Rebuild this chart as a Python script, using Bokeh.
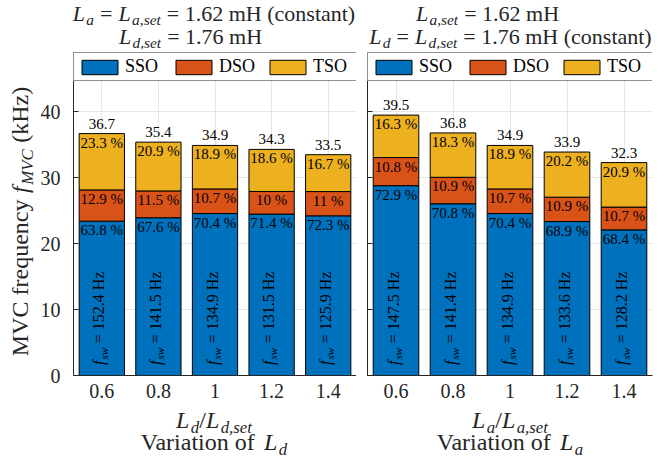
from math import pi
from bokeh.plotting import figure
from bokeh.models import (ColumnDataSource, FactorRange, Range1d, FixedTicker,
                          Legend, LegendItem)
from bokeh.layouts import row, column
from bokeh.embed import file_html
from bokeh.resources import INLINE
from bokeh.core.properties import value

# ---------------- data ----------------
ratios = ["0.6", "0.8", "1", "1.2", "1.4"]
modes = ["SSO", "DSO", "TSO"]
y_ticks = [0, 10, 20, 30, 40]

# Variation of L_d
ld_total = [36.7, 35.4, 34.9, 34.3, 33.5]
ld_sso = [63.8, 67.6, 70.4, 71.4, 72.3]
ld_dso = [12.9, 11.5, 10.7, 10, 11]
ld_tso = [23.3, 20.9, 18.9, 18.6, 16.7]
ld_fsw = [152.4, 141.5, 134.9, 131.5, 125.9]

# Variation of L_a
la_total = [39.5, 36.8, 34.9, 33.9, 32.3]
la_sso = [72.9, 70.8, 70.4, 68.9, 68.4]
la_dso = [10.8, 10.9, 10.7, 10.9, 10.7]
la_tso = [16.3, 18.3, 18.9, 20.2, 20.9]
la_fsw = [147.5, 141.4, 134.9, 133.6, 128.2]

COLORS = ["#0072BD", "#D95319", "#EDB120"]
AX = "#262626"
FONT = "Liberation Serif"

# ---------------- layout constants (pixels) ----------------
W, H = 669, 460
Y_MAX = 49
FRAME_W = 285
FRAME_H = 323
TOP = 52            # height of title strip
MID_H = 354         # height of plot row
YL_W = 37           # width of y-label strip
PPU = FRAME_H / Y_MAX
MID = 0.3375        # centre of the em box above the baseline (fraction of size)

REG = {' ': 250, '(': 333, ')': 333, ',': 250, '.': 250, '/': 278, '=': 564, '%': 833,
       'C': 667, 'H': 722, 'L': 611, 'M': 889, 'V': 722, 'S': 556, 'O': 722, 'D': 722, 'T': 611,
       'a': 444, 'c': 444, 'd': 500, 'e': 444, 'f': 333, 'i': 278, 'k': 500, 'm': 778, 'n': 500,
       'o': 500, 'q': 500, 'r': 333, 's': 389, 't': 278, 'u': 500, 'y': 500, 'z': 444, 'w': 722}
for _c in "0123456789":
    REG[_c] = 500
ITA = {'L': 556, 'M': 833, 'V': 611, 'C': 667, 'a': 500, 'd': 500, 'e': 444, 'f': 278,
       's': 389, 't': 278, 'w': 667, ',': 250}


def layout_runs(runs, fs):
    """Return (text, kind, size, advance, centre-line offset below main baseline)."""
    pos = 0.0
    out = []
    sp_full = REG[' '] * fs / 1000
    for txt, kind in runs:
        size = fs * 0.7 if kind == "s" else fs
        tbl = ITA if kind in ("i", "s") else REG
        lead = len(txt) - len(txt.lstrip(" "))
        trail = len(txt) - len(txt.rstrip(" "))
        core = txt.strip(" ")
        pos += lead * sp_full * 1.1
        w = sum(tbl.get(c, 500) for c in core) * size / 1000
        if kind == "i":
            w += 0.06 * fs
        shift = (0.2 * fs if kind == "s" else 0.0) - MID * size
        out.append((core, kind, size, pos, shift))
        pos += w + trail * sp_full * 1.1
    return out, pos


def text_strip(x0, y0, w, h, border_bottom=0):
    """A figure without axes; data units = page pixels (y down)."""
    fh = h - border_bottom
    p = figure(width=w, height=h, x_range=Range1d(x0, x0 + w), y_range=Range1d(y0 + fh, y0),
               x_axis_type=None, y_axis_type=None, min_border=0,
               min_border_bottom=border_bottom,
               toolbar_location=None, output_backend="svg")
    p.grid.visible = False
    p.outline_line_color = None
    return p


def add_math(p, runs, fs, center, baseline, rotated=False, color=AX):
    items, total = layout_runs(runs, fs)
    for core, kind, size, pos, shift in items:
        if not rotated:
            px, py, ang = center - total / 2 + pos, baseline + shift, 0.0
        else:
            px, py, ang = baseline + shift, center + total / 2 - pos, pi / 2
        p.text(x=[px], y=[py], text=[core], angle=ang,
               text_align="left", text_baseline="middle",
               text_font=value(FONT), text_font_size=f"{size:.1f}px",
               text_font_style="italic" if kind in ("i", "s") else "normal",
               text_color=color)


def make_panel(total, sso, dso, tso, fsw, left_border, right_border):
    p = figure(x_range=FactorRange(*ratios), y_range=Range1d(0, Y_MAX),
               width=left_border + FRAME_W + right_border, height=MID_H,
               min_border_left=left_border, min_border_right=right_border,
               min_border_top=0, min_border_bottom=MID_H - FRAME_H,
               toolbar_location=None, output_backend="svg")
    p.outline_line_color = None
    p.background_fill_color = "white"
    p.xgrid.grid_line_color = "#e6e6e6"
    p.ygrid.grid_line_color = "#e6e6e6"

    s_abs = [t * v / 100 for t, v in zip(total, sso)]
    d_abs = [t * v / 100 for t, v in zip(total, dso)]
    t_abs = [t * v / 100 for t, v in zip(total, tso)]
    src = ColumnDataSource(dict(x=ratios, SSO=s_abs, DSO=d_abs, TSO=t_abs))
    rs = p.vbar_stack(modes, x="x", width=0.8, fill_color=COLORS, line_color="black",
                      line_width=1, source=src)

    # percentage labels at the top of each segment
    tops_s = s_abs
    tops_d = [a + b for a, b in zip(s_abs, d_abs)]
    tops_t = total
    lx, ly, lt = [], [], []
    for vals, tops in ((sso, tops_s), (dso, tops_d), (tso, tops_t)):
        for c, v, tp in zip(ratios, vals, tops):
            lx.append(c)
            ly.append(tp)
            lt.append(f"{v:g} %")
    p.text(x="x", y="y", text="t", source=ColumnDataSource(dict(x=lx, y=ly, t=lt)),
           text_align="center", text_baseline="top", y_offset=1,
           text_font=value(FONT), text_font_size="15px", text_color="black")

    # totals above the bars
    p.text(x="x", y="y", text="t",
           source=ColumnDataSource(dict(x=ratios, y=total, t=[f"{t:.1f}" for t in total])),
           text_align="center", text_baseline="middle", y_offset=-10,
           text_font=value(FONT), text_font_size="15px", text_color="black")

    # rotated switching-frequency labels
    fs = 16
    groups = {}
    for c, f in zip(ratios, fsw):
        items, _ = layout_runs([("f", "i"), ("sw", "s"), (f" = {f:.1f} Hz", "r")], fs)
        for core, kind, size, pos, shift in items:
            g = groups.setdefault(kind, dict(x=[], y=[], t=[], xo=[], size=size))
            g["x"].append(c)
            g["y"].append(1.6 + pos / PPU)
            g["t"].append(core)
            g["xo"].append(2.4 + shift)
    for kind, g in groups.items():
        p.text(x="x", y="y", text="t", x_offset="xo",
               source=ColumnDataSource(dict(x=g["x"], y=g["y"], t=g["t"], xo=g["xo"])),
               angle=pi / 2, text_align="left", text_baseline="middle",
               text_font=value(FONT), text_font_size=f"{g['size']:.1f}px",
               text_font_style="italic" if kind in ("i", "s") else "normal",
               text_color="black")

    # axes
    for ax in (p.xaxis[0], p.yaxis[0]):
        ax.axis_line_color = AX
        ax.major_tick_line_color = AX
        ax.minor_tick_line_color = None
        ax.major_label_text_font = FONT
        ax.major_label_text_font_size = "20px"
        ax.major_label_text_color = AX
    p.xaxis.major_tick_in = 0
    p.xaxis.major_tick_out = 0
    p.xaxis.major_label_standoff = 8
    p.yaxis.ticker = FixedTicker(ticks=y_ticks)
    p.yaxis.major_tick_in = 5
    p.yaxis.major_tick_out = 0
    p.yaxis.major_label_standoff = 13

    legend = Legend(items=[LegendItem(label=m, renderers=[r]) for m, r in zip(modes, rs)],
                    orientation="horizontal", location="top_left", margin=0, padding=3,
                    spacing=4, glyph_width=45, glyph_height=18, label_width=42,
                    label_height=18, label_standoff=3,
                    label_text_font=FONT, label_text_font_size="18px",
                    label_text_color="black", border_line_color=AX, border_line_width=1,
                    background_fill_color="white", background_fill_alpha=1)
    p.add_layout(legend)
    return p


p1 = make_panel(ld_total, ld_sso, ld_dso, ld_tso, ld_fsw, 71 - YL_W, 0)
p2 = make_panel(la_total, la_sso, la_dso, la_tso, la_fsw, 11, 17)
p2.yaxis.major_label_overrides = {t: "" for t in y_ticks}
p2.yaxis.major_label_standoff = 0

# strips for titles, y label and x labels
top = text_strip(0, 0, W, TOP)
yl = text_strip(0, TOP, YL_W, MID_H, border_bottom=MID_H - FRAME_H)
bot = text_strip(0, TOP + MID_H, W, H - TOP - MID_H)

L1, L2 = 71, 367   # frame left edges (page pixels)

# titles
add_math(top, [("L", "i"), ("a", "s"), (" = ", "r"), ("L", "i"), ("a,set", "s"),
               (" = 1.62 mH (constant)", "r")], 22, L1 + FRAME_W / 2, 20)
add_math(top, [("L", "i"), ("d,set", "s"), (" = 1.76 mH", "r")], 22, 190, 43)
add_math(top, [("L", "i"), ("a,set", "s"), (" = 1.62 mH", "r")], 22, 487, 20)
add_math(top, [("L", "i"), ("d", "s"), (" = ", "r"), ("L", "i"), ("d,set", "s"),
               (" = 1.76 mH (constant)", "r")], 22, 510, 43)

# y-axis label
add_math(yl, [("MVC frequency ", "r"), ("f", "i"), ("MVC", "s"), (" (kHz)", "r")],
         24, 221, 27.5, rotated=True)

# x-axis labels
for left, var in ((L1, "d"), (L2, "a")):
    cx = left + FRAME_W / 2
    add_math(bot, [("L", "i"), (var, "s"), ("/", "r"), ("L", "i"), (var + ",set", "s")],
             24, cx, 428)
    add_math(bot, [("Variation of ", "r"), ("L", "i"), (var, "s")], 24, cx, 450)

layout = column(top, row(yl, p1, p2), bot)
open("out.html", "w").write(file_html(layout, INLINE))
